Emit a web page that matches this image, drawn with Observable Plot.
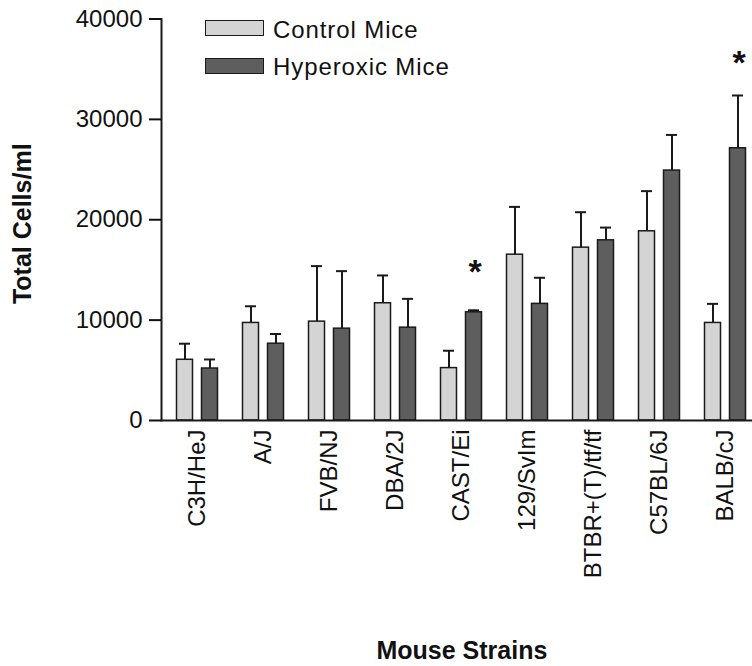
<!DOCTYPE html>
<html><head><meta charset="utf-8">
<script src="https://cdn.jsdelivr.net/npm/d3@7"></script>
<script src="https://cdn.jsdelivr.net/npm/@observablehq/plot@0.6"></script>
<style>
body{margin:0;background:#fff;overflow:hidden;font-family:"Liberation Sans",Arial,sans-serif;}
#wrap{position:relative;width:752px;height:666px;overflow:hidden;}
.sw{position:absolute;left:205px;width:57px;height:14px;border:1.5px solid #1a1a1a;}
.lt{position:absolute;left:273px;font-size:24px;line-height:24px;letter-spacing:0.9px;color:#111;white-space:nowrap;}
</style></head><body>
<div id="wrap"><div id="chart"></div></div>
<script>
const strains = ["C3H/HeJ","A/J","FVB/NJ","DBA/2J","CAST/Ei","129/SvIm","BTBR+(T)/tf/tf","C57BL/6J","BALB/cJ"];
const seriesNames = ["Control Mice","Hyperoxic Mice"];
const control   = [6050, 9720, 9850, 11680, 5220, 16520, 17220, 18850, 9720];
const controlSD = [1600, 1660, 5530, 2770, 1730, 4760, 3530, 4000, 1900];
const hyper     = [5180, 7650, 9150, 9250, 10780, 11620, 17950, 24900, 27120];
const hyperSD   = [900, 970, 5730, 2870, 200, 2600, 1270, 3550, 5260];
const yTicks = [0, 10000, 20000, 30000, 40000];
const starStrains = ["CAST/Ei", "BALB/cJ"];
const starValues = [14800, 35600];
const colors = ["#d4d4d4", "#5e5e5e"];
const xTitle = "Mouse Strains";
const yTitle = "Total Cells/ml";

const ctrlRows = strains.map((s, i) => ({strain: s, value: control[i], sd: controlSD[i]}));
const hypRows = strains.map((s, i) => ({strain: s, value: hyper[i], sd: hyperSD[i]}));
const stars = starStrains.map((s, i) => ({strain: s, y: starValues[i]}));

const ink = "#1a1a1a";
const off = 12.5;
function series(rows, fill, dx) {
  return [
    Plot.barY(rows, {x: "strain", y: "value", fill, stroke: ink, strokeWidth: 1.5, dx}),
    Plot.ruleX(rows, {x: "strain", y1: "value", y2: d => d.value + d.sd, stroke: ink, strokeWidth: 2, dx}),
    Plot.tickY(rows, {x: "strain", y: d => d.value + d.sd, stroke: ink, strokeWidth: 2, dx, insetLeft: 2.5, insetRight: 2.5})
  ];
}

const chart = Plot.plot({
  width: 752, height: 666,
  marginTop: 18.5, marginBottom: 246, marginLeft: 161, marginRight: -9.75,
  style: {fontFamily: '"Liberation Sans", Arial, sans-serif', color: "#111", background: "#fff"},
  x: {type: "band", domain: strains, paddingInner: 0.76, paddingOuter: 0.38},
  y: {domain: [0, 40000]},
  marks: [
    ...series(ctrlRows, colors[0], -off),
    ...series(hypRows, colors[1], off),
    Plot.frame({anchor: "left", stroke: ink, strokeWidth: 2}),
    Plot.ruleY([0], {stroke: ink, strokeWidth: 2}),
    Plot.text(stars, {x: "strain", y: "y", dx: off + 1, text: () => "*", fontSize: 34, fontWeight: "bold", lineAnchor: "middle", fill: "#111"}),
    Plot.axisY({ticks: yTicks, tickFormat: "d", tickSize: 12, tickPadding: 7, fontSize: 24, strokeWidth: 2, label: null}),
    Plot.axisX({tickRotate: -90, tickSize: 0, tickPadding: 9, fontSize: 24, label: null}),
    Plot.text([yTitle], {frameAnchor: "left", text: d => d, rotate: -90, dx: -148, dy: 4, textAnchor: "middle", lineAnchor: "top", fontSize: 25, fontWeight: "bold", fill: "#111"}),
    Plot.text([xTitle], {frameAnchor: "bottom", text: d => d, dy: 221, textAnchor: "middle", lineAnchor: "top", fontSize: 25, fontWeight: "bold", fill: "#111"})
  ]
});
document.getElementById("chart").appendChild(chart);

const wrap = document.getElementById("wrap");
const legendTops = [20, 58];
const textTops = [18, 54.7];
seriesNames.forEach((name, i) => {
  const sw = document.createElement("div");
  sw.className = "sw";
  sw.style.top = legendTops[i] + "px";
  sw.style.background = colors[i];
  wrap.appendChild(sw);
  const t = document.createElement("div");
  t.className = "lt";
  t.style.top = textTops[i] + "px";
  t.textContent = name;
  wrap.appendChild(t);
});
</script>
</body></html>
